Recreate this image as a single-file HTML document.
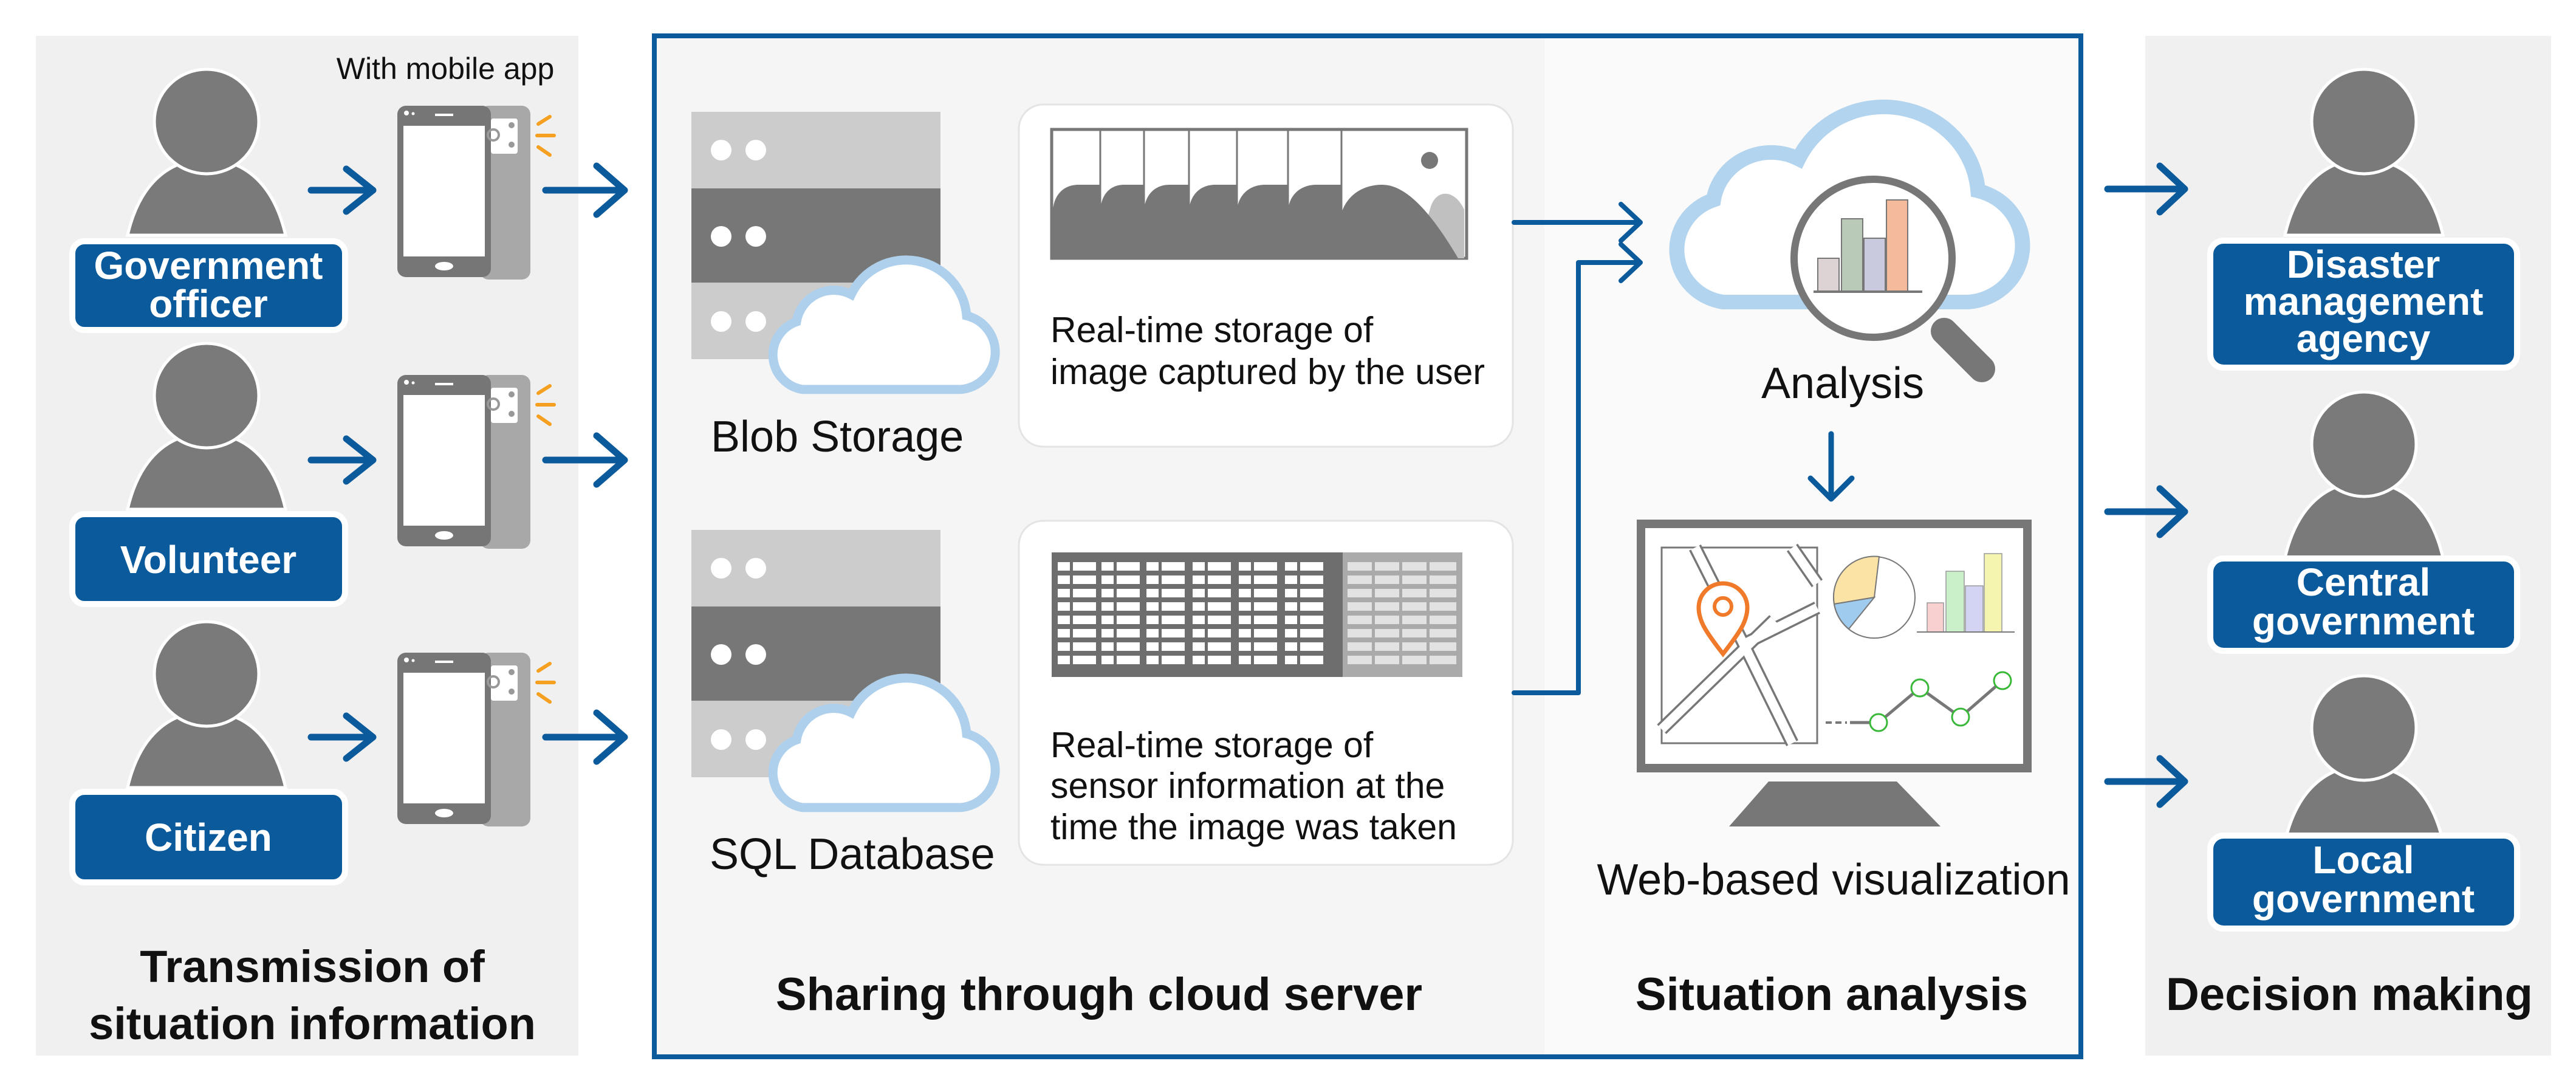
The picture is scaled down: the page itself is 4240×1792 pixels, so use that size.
<!DOCTYPE html>
<html><head><meta charset="utf-8"><style>html,body{margin:0;padding:0;background:#fff}svg{display:block}</style></head>
<body>
<svg width="4240" height="1792" viewBox="0 0 4240 1792" xmlns="http://www.w3.org/2000/svg" font-family="Liberation Sans, Arial, sans-serif">
<defs>
<path id="cloud" d="M70 232 L330 232 A62 62 0 0 0 340 110 A100 100 0 0 0 150 75 A62 62 0 0 0 60 120 A58 58 0 0 0 70 232 Z"/>
<g id="person">
  <path d="M-130 187 C-110 100 -60 62 0 62 C60 62 110 100 130 187 Z" fill="#7a7a7a" stroke="#fff" stroke-width="5"/>
  <circle cx="0" cy="0" r="86" fill="#7a7a7a" stroke="#fff" stroke-width="5"/>
</g>
<g id="phone">
  <rect x="790" y="174" width="83" height="286" rx="14" fill="#a8a8a8"/>
  <rect x="654" y="174" width="154" height="282" rx="14" fill="#767676"/>
  <rect x="664" y="207" width="134" height="215" fill="#fff"/>
  <ellipse cx="731" cy="438" rx="15" ry="7" fill="#fff"/>
  <rect x="716" y="187" width="30" height="4" fill="#fff"/>
  <circle cx="669" cy="186" r="4" fill="#fff"/><circle cx="680" cy="187" r="2.5" fill="#fff"/>
  <rect x="808" y="195" width="44" height="58" rx="4" fill="#fff"/>
  <circle cx="812" cy="222" r="9" fill="none" stroke="#999" stroke-width="4"/>
  <circle cx="842" cy="206" r="5" fill="#999"/><circle cx="842" cy="238" r="5" fill="#999"/>
  <g stroke="#f5a020" stroke-width="6" stroke-linecap="round">
    <line x1="886" y1="204" x2="905" y2="192"/><line x1="884" y1="223" x2="912" y2="223"/><line x1="886" y1="242" x2="905" y2="255"/>
  </g>
</g>
<path id="tcp" d="M1741 925h20v14h-20zM1741 947h20v14h-20zM1741 969h20v14h-20zM1741 991h20v14h-20zM1741 1013h20v14h-20zM1741 1035h20v14h-20zM1741 1057h20v14h-20zM1741 1079h20v14h-20zM1766 925h38v14h-38zM1766 947h38v14h-38zM1766 969h38v14h-38zM1766 991h38v14h-38zM1766 1013h38v14h-38zM1766 1035h38v14h-38zM1766 1057h38v14h-38zM1766 1079h38v14h-38z"/>
</defs>

<!-- panels -->
<rect x="59" y="59" width="893" height="1678" fill="#f0f0f0"/>
<rect x="3531" y="59" width="668" height="1678" fill="#f0f0f0"/>
<rect x="1077" y="59" width="1465" height="1680" fill="#f5f5f5"/>
<rect x="2542" y="59" width="883" height="1680" fill="#fafafa"/>
<rect x="1077" y="59" width="2348" height="1680" fill="none" stroke="#0b5a9c" stroke-width="8"/>

<!-- left people -->
<text x="733" y="130" font-size="50" text-anchor="middle" fill="#111">With mobile app</text>
<g transform="translate(340,200)"><use href="#person"/></g>
<g transform="translate(340,651)"><use href="#person"/></g>
<g transform="translate(340,1109)"><use href="#person"/></g>
<g fill="#0b5a9c" stroke="#fff" stroke-width="10">
<rect x="119" y="397" width="449" height="146" rx="20"/>
<rect x="119" y="846" width="449" height="148" rx="20"/>
<rect x="119" y="1303" width="449" height="149" rx="20"/>
</g>
<g fill="#fff" font-weight="bold" font-size="64" text-anchor="middle">
<text x="343" y="459">Government</text><text x="343" y="522">officer</text>
<text x="343" y="943">Volunteer</text>
<text x="343" y="1400">Citizen</text>
</g>
<use href="#phone"/>
<use href="#phone" transform="translate(0,443)"/>
<use href="#phone" transform="translate(0,900)"/>

<g fill="none" stroke="#0b5a9c" stroke-width="11" stroke-linecap="round" stroke-linejoin="round">
<path d="M512 313 H614 M570 278 L614 313 L570 348"/>
<path d="M512 757 H614 M570 722 L614 757 L570 792"/>
<path d="M512 1213 H614 M570 1178 L614 1213 L570 1248"/>
<path d="M898 313 H1028 M982 273 L1028 313 L982 353"/>
<path d="M898 757 H1028 M982 717 L1028 757 L982 797"/>
<path d="M898 1213 H1028 M982 1173 L1028 1213 L982 1253"/>
<path d="M3469 311 H3596 M3555 273 L3596 311 L3555 349"/>
<path d="M3469 842 H3596 M3555 804 L3596 842 L3555 880"/>
<path d="M3469 1286 H3596 M3555 1248 L3596 1286 L3555 1324"/>
</g>

<text x="514" y="1616" font-size="74" font-weight="bold" text-anchor="middle" fill="#111">Transmission of</text>
<text x="514" y="1710" font-size="74" font-weight="bold" text-anchor="middle" fill="#111">situation information</text>
<text x="1809" y="1662" font-size="76" font-weight="bold" text-anchor="middle" fill="#111">Sharing through cloud server</text>
<text x="3015" y="1662" font-size="76" font-weight="bold" text-anchor="middle" fill="#111">Situation analysis</text>
<text x="3867" y="1662" font-size="76" font-weight="bold" text-anchor="middle" fill="#111">Decision making</text>

<!-- servers -->
<g>
<rect x="1138" y="184" width="410" height="126" fill="#cccccc"/>
<rect x="1138" y="310" width="410" height="155" fill="#777"/>
<rect x="1138" y="465" width="410" height="126" fill="#cccccc"/>
<g fill="#fff"><circle cx="1187" cy="247" r="17"/><circle cx="1244" cy="247" r="17"/><circle cx="1187" cy="389" r="17"/><circle cx="1244" cy="389" r="17"/><circle cx="1187" cy="529" r="17"/><circle cx="1244" cy="529" r="17"/></g>
<use href="#cloud" transform="translate(1251,410) scale(1.0,0.995)" fill="#fff" stroke="#aed0ec" stroke-width="15"/>
</g>
<g transform="translate(0,688)">
<rect x="1138" y="184" width="410" height="126" fill="#cccccc"/>
<rect x="1138" y="310" width="410" height="155" fill="#777"/>
<rect x="1138" y="465" width="410" height="126" fill="#cccccc"/>
<g fill="#fff"><circle cx="1187" cy="247" r="17"/><circle cx="1244" cy="247" r="17"/><circle cx="1187" cy="389" r="17"/><circle cx="1244" cy="389" r="17"/><circle cx="1187" cy="529" r="17"/><circle cx="1244" cy="529" r="17"/></g>
<use href="#cloud" transform="translate(1251,410) scale(1.0,0.995)" fill="#fff" stroke="#aed0ec" stroke-width="15"/>
</g>
<g font-size="72" fill="#111">
<text x="1170" y="743">Blob Storage</text>
<text x="1168" y="1430">SQL Database</text>
</g>

<!-- cards -->
<rect x="1677" y="172" width="813" height="563" rx="40" fill="#fff" stroke="#e4e4e4" stroke-width="3"/>
<rect x="1677" y="857" width="813" height="566" rx="40" fill="#fff" stroke="#e4e4e4" stroke-width="3"/>
<g font-size="59" fill="#111">
<text x="1729" y="563">Real-time storage of</text>
<text x="1729" y="632">image captured by the user</text>
<text x="1729" y="1246">Real-time storage of</text>
<text x="1729" y="1313">sensor information at the</text>
<text x="1729" y="1381">time the image was taken</text>
</g>

<!-- image strip -->
<rect x="1731" y="213" width="683" height="212" fill="#fff" stroke="#777" stroke-width="5"/>
<g fill="#777">
<path d="M1733 425 V350 C1733 322 1750 304 1775 304 H1811 V425 Z"/>
<path d="M1811 425 V350 C1811 322 1826 304 1850 304 H1883 V425 Z"/>
<path d="M1883 425 V350 C1883 322 1900 304 1925 304 H1957 V425 Z"/>
<path d="M1957 425 V350 C1957 322 1975 304 2000 304 H2036 V425 Z"/>
<path d="M2036 425 V350 C2036 322 2056 304 2082 304 H2120 V425 Z"/>
<path d="M2120 425 V350 C2120 322 2140 304 2166 304 H2208 V425 Z"/>
</g>
<path d="M2330 425 L2355 340 C2365 310 2395 312 2410 345 V425 Z" fill="#c0c0c0"/>
<path d="M2208 425 V350 C2220 315 2250 304 2275 304 C2310 304 2350 340 2400 425 Z" fill="#777"/>
<circle cx="2353" cy="264" r="14" fill="#777"/>
<g stroke="#777" stroke-width="3"><line x1="1811" y1="213" x2="1811" y2="425"/><line x1="1883" y1="213" x2="1883" y2="425"/><line x1="1957" y1="213" x2="1957" y2="425"/><line x1="2036" y1="213" x2="2036" y2="425"/><line x1="2120" y1="213" x2="2120" y2="425"/><line x1="2208" y1="213" x2="2208" y2="425"/></g>

<!-- table -->
<rect x="1731" y="909" width="676" height="205" fill="#6e6e6e"/>
<rect x="2210" y="909" width="197" height="205" fill="#aaa"/>
<g fill="#fff">
<use href="#tcp"/>
<use href="#tcp" transform="translate(72,0)"/>
<use href="#tcp" transform="translate(146,0)"/>
<use href="#tcp" transform="translate(222,0)"/>
<use href="#tcp" transform="translate(298,0)"/>
<use href="#tcp" transform="translate(374,0)"/>
</g>
<g fill="#e2e2e2">
<path d="M2218 925h40v14h-40zM2218 947h40v14h-40zM2218 969h40v14h-40zM2218 991h40v14h-40zM2218 1013h40v14h-40zM2218 1035h40v14h-40zM2218 1057h40v14h-40zM2218 1079h40v14h-40z"/>
<path d="M2263 925h40v14h-40zM2263 947h40v14h-40zM2263 969h40v14h-40zM2263 991h40v14h-40zM2263 1013h40v14h-40zM2263 1035h40v14h-40zM2263 1057h40v14h-40zM2263 1079h40v14h-40z"/>
<path d="M2308 925h40v14h-40zM2308 947h40v14h-40zM2308 969h40v14h-40zM2308 991h40v14h-40zM2308 1013h40v14h-40zM2308 1035h40v14h-40zM2308 1057h40v14h-40zM2308 1079h40v14h-40z"/>
<path d="M2353 925h44v14h-44zM2353 947h44v14h-44zM2353 969h44v14h-44zM2353 991h44v14h-44zM2353 1013h44v14h-44zM2353 1035h44v14h-44zM2353 1057h44v14h-44zM2353 1079h44v14h-44z"/>
</g>

<!-- connectors -->
<g fill="none" stroke="#0b5a9c" stroke-width="8" stroke-linecap="round" stroke-linejoin="round">
<path d="M2492 366 H2700 M2668 336 L2700 366 L2668 396"/>
<path d="M2492 1140 H2598 V432 H2700 M2668 402 L2700 432 L2668 462"/>
<path d="M3014 714 V820 M2980 787 L3014 821 L3048 787" stroke-width="9"/>
</g>

<!-- analysis cloud -->
<use href="#cloud" transform="translate(2727,149) scale(1.555,1.5)" fill="#fff" stroke="#b3d4ee" stroke-width="16"/>
<line x1="3200" y1="545" x2="3262" y2="607" stroke="#777" stroke-width="44" stroke-linecap="round"/>
<circle cx="3083" cy="425" r="130" fill="#fff" stroke="#777" stroke-width="12"/>
<g stroke="#777" stroke-width="2">
<rect x="2992" y="425" width="35" height="55" fill="#ddd3d4"/>
<rect x="3031" y="360" width="35" height="120" fill="#b9cab9"/>
<rect x="3068" y="392" width="35" height="88" fill="#cacade"/>
<rect x="3105" y="329" width="35" height="151" fill="#f5ba9b"/>
</g>
<line x1="2985" y1="480" x2="3164" y2="480" stroke="#777" stroke-width="4"/>
<text x="3033" y="655" font-size="72" text-anchor="middle" fill="#111">Analysis</text>

<!-- monitor -->
<rect x="2701" y="862" width="636" height="402" fill="#fff" stroke="#777" stroke-width="14"/>
<path d="M2911 1286 H3122 L3194 1360 H2846 Z" fill="#777"/>
<rect x="2735" y="901" width="256" height="322" fill="#fff" stroke="#777" stroke-width="3"/>
<g stroke="#777" stroke-width="22" fill="none"><path d="M2790 901 L2870 1060 L2991 1000"/><path d="M2735 1200 L2920 1020"/><path d="M2870 1060 L2950 1223"/><path d="M2950 901 L2991 960"/></g>
<g stroke="#fff" stroke-width="15" fill="none"><path d="M2790 901 L2870 1060 L2991 1000"/><path d="M2735 1200 L2920 1020"/><path d="M2870 1060 L2950 1223"/><path d="M2950 901 L2991 960"/></g>
<path d="M2836 1076 C2808 1040 2796 1022 2796 1000 A40 40 0 0 1 2876 1000 C2876 1022 2864 1040 2836 1076 Z" fill="#fff" stroke="#f07a2a" stroke-width="7"/>
<circle cx="2836" cy="998" r="14" fill="none" stroke="#f07a2a" stroke-width="6"/>
<circle cx="3085" cy="983" r="67" fill="#fff" stroke="#777" stroke-width="2"/>
<path d="M3085 983 L3093 916 A67 67 0 0 0 3019 994 Z" fill="#fbe3a6" stroke="#777" stroke-width="2"/>
<path d="M3085 983 L3019 994 A67 67 0 0 0 3043 1035 Z" fill="#9fcbee" stroke="#777" stroke-width="2"/>
<g stroke="#999" stroke-width="1.5">
<rect x="3172" y="992" width="27" height="48" fill="#f8d0d0"/>
<rect x="3203" y="940" width="30" height="100" fill="#c9f0c9"/>
<rect x="3235" y="964" width="29" height="76" fill="#d3d3f3"/>
<rect x="3266" y="911" width="29" height="129" fill="#f5f5b0"/>
</g>
<line x1="3155" y1="1040" x2="3316" y2="1040" stroke="#777" stroke-width="2"/>
<path d="M3005 1189 H3040" stroke="#777" stroke-width="4" stroke-dasharray="10 6"/>
<path d="M3045 1189 H3092 L3160 1132 L3227 1180 L3296 1120" fill="none" stroke="#777" stroke-width="5"/>
<g fill="#fff" stroke="#3ab83a" stroke-width="3"><circle cx="3092" cy="1189" r="14"/><circle cx="3160" cy="1132" r="14"/><circle cx="3227" cy="1180" r="14"/><circle cx="3296" cy="1120" r="14"/></g>
<text x="3018" y="1472" font-size="72" text-anchor="middle" fill="#111">Web-based visualization</text>

<!-- right people -->
<g transform="translate(3891,200)"><use href="#person"/></g>
<g transform="translate(3891,731)"><use href="#person"/></g>
<g transform="translate(3891,1198)"><use href="#person"/></g>
<g fill="#0b5a9c" stroke="#fff" stroke-width="10">
<rect x="3638" y="396" width="505" height="209" rx="22"/>
<rect x="3638" y="919" width="505" height="152" rx="22"/>
<rect x="3638" y="1375" width="505" height="153" rx="22"/>
</g>
<g fill="#fff" font-weight="bold" font-size="64" text-anchor="middle">
<text x="3890" y="457">Disaster</text><text x="3890" y="518">management</text><text x="3890" y="579">agency</text>
<text x="3890" y="980">Central</text><text x="3890" y="1044">government</text>
<text x="3890" y="1437">Local</text><text x="3890" y="1501">government</text>
</g>
</svg>
</body></html>
